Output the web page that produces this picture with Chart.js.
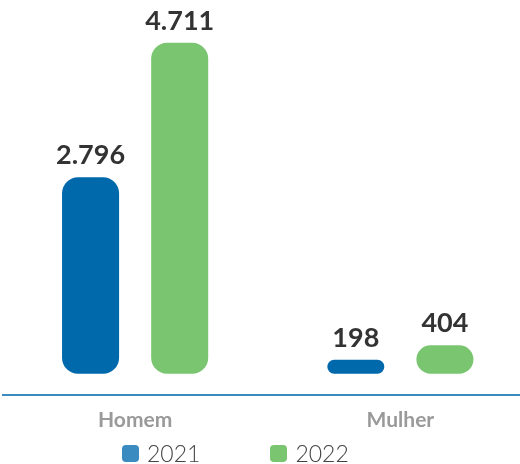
<!DOCTYPE html>
<html><head><meta charset="utf-8">
<script src="https://cdn.jsdelivr.net/npm/chart.js@4/dist/chart.umd.min.js"></script>
<style>
html,body{margin:0;padding:0;background:#fff;overflow:hidden;}
#wrap{position:relative;width:520px;height:464px;overflow:hidden;}
#c{position:absolute;left:0;top:0;}
#legend{position:absolute;left:122px;top:443px;display:flex;align-items:center;font-family:Lato,sans-serif;font-weight:300;font-size:23px;color:#444;line-height:21px;}
.item{display:flex;align-items:center;margin-right:70px;}
.box{width:17px;height:17px;border-radius:4px;margin-right:8px;}
</style></head><body>
<div id="wrap"><canvas id="c" width="533" height="464"></canvas><div id="legend"></div></div>
<script>
const categories = ['Homem', 'Mulher'];
const seriesNames = ['2021', '2022'];
const values2021 = [2796, 198];
const values2022 = [4711, 404];
const barColors = ['#0069ab', '#7ac570'];
const legendColors = ['#3a8bc0', '#7ac570'];

const valueLabels = {
  id: 'valueLabels',
  afterDatasetsDraw(chart) {
    const ctx = chart.ctx;
    ctx.save();
    ctx.font = 'bold 27px Lato, sans-serif';
    ctx.fillStyle = '#333333';
    ctx.textAlign = 'center';
    ctx.textBaseline = 'alphabetic';
    chart.data.datasets.forEach((ds, di) => {
      chart.getDatasetMeta(di).data.forEach((el, i) => {
        ctx.fillText(ds.data[i].toLocaleString('pt-BR'), el.x, el.y - 13);
      });
    });
    ctx.restore();
  }
};

const chart = new Chart(document.getElementById('c'), {
  type: 'bar',
  data: {
    labels: categories,
    datasets: [
      { label: seriesNames[0], data: values2021, backgroundColor: barColors[0] },
      { label: seriesNames[1], data: values2022, backgroundColor: barColors[1] }
    ]
  },
  options: {
    responsive: false,
    animation: false,
    layout: { padding: { left: 2.5, right: 0, top: 0, bottom: 18 } },
    datasets: { bar: { barPercentage: 0.64, categoryPercentage: 0.672, borderRadius: 16, borderSkipped: false } },
    plugins: { legend: { display: false }, tooltip: { enabled: false } },
    scales: {
      x: {
        grid: { display: false, drawTicks: false },
        border: { display: true, color: '#3a8bc0', width: 2 },
        ticks: { padding: 13, color: '#9a9a9a', font: { family: 'Lato', size: 21, weight: 'bold' } }
      },
      y: { display: false, min: -300, max: 5320 }
    }
  },
  plugins: [valueLabels]
});

const legendEl = document.getElementById('legend');
chart.data.datasets.forEach((ds, i) => {
  const item = document.createElement('div');
  item.className = 'item';
  const box = document.createElement('span');
  box.className = 'box';
  box.style.background = legendColors[i];
  const txt = document.createElement('span');
  txt.textContent = ds.label;
  item.appendChild(box);
  item.appendChild(txt);
  legendEl.appendChild(item);
});
</script>
</body></html>
